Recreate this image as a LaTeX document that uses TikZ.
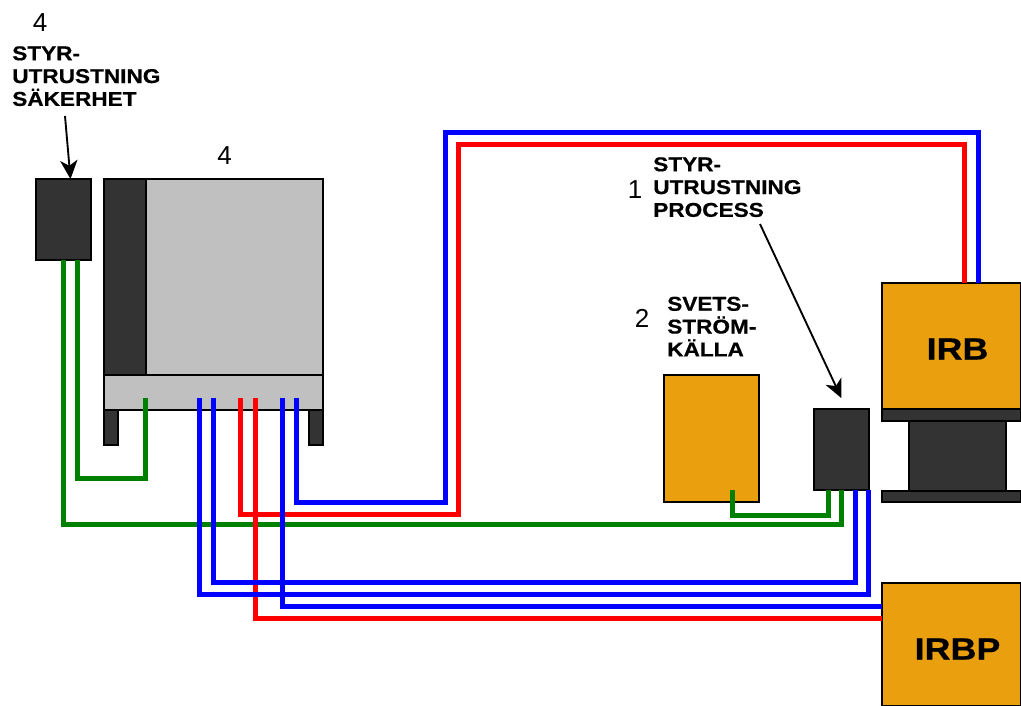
\documentclass[tikz,border=0pt]{standalone}
\usepackage{fontspec}
\setmainfont{Liberation Sans}
\newfontfamily\labfont[BoldFeatures={FakeStretch=1.13,FakeBold=0.6}]{Liberation Sans}
\newfontfamily\bigfont[BoldFeatures={FakeStretch=1.17,FakeBold=0.6}]{Liberation Sans}
\definecolor{dk}{HTML}{333333}
\definecolor{gr}{HTML}{C0C0C0}
\definecolor{og}{HTML}{EA9F0E}
\definecolor{wgreen}{HTML}{008000}
\usetikzlibrary{arrows.meta}
\tikzset{
  px/.style={x=0.75pt,y=-0.75pt},
  box/.style={draw=black,line width=0.9pt,inner sep=0pt,outer sep=0pt,anchor=north west},
  dkbox/.style={box,fill=dk},
  grbox/.style={box,fill=gr},
  ogbox/.style={box,fill=og},
  wire/.style={line width=3.75pt,line join=miter},
  gw/.style={wire,draw=wgreen},
  rw/.style={wire,draw=red},
  bw/.style={wire,draw=blue},
  lab/.style={font=\labfont\fontsize{15}{17.1}\selectfont\bfseries,align=left,anchor=north west,inner sep=0pt},
  num/.style={font=\fontsize{19.5}{21}\selectfont,inner sep=0pt},
  big/.style={font=\bigfont\fontsize{23}{26}\selectfont\bfseries,inner sep=0pt},
  ptr/.style={draw=black,line width=1.4pt,-{Stealth[length=14pt,width=13pt,inset=4pt]}}
}
\begin{document}
\begin{tikzpicture}[px]
\useasboundingbox (0,0) rectangle (1021,706);
% boxes
\node[dkbox,minimum width=41.25pt,minimum height=60.75pt] (safe) at (36,179) {};
\node[dkbox,minimum width=31.5pt,minimum height=147pt] (cabdark) at (104,179) {};
\node[grbox,minimum width=132.75pt,minimum height=147pt] (cabgrey) at (146,179) {};
\node[grbox,minimum width=164.25pt,minimum height=26.25pt] (cabband) at (104,375) {};
\node[dkbox,minimum width=10.5pt,minimum height=26.25pt] (footl) at (104,410) {};
\node[dkbox,minimum width=10.5pt,minimum height=26.25pt] (footr) at (309,410) {};
\node[ogbox,minimum width=71.25pt,minimum height=95.25pt] (weld) at (664,375) {};
\node[dkbox,minimum width=41.25pt,minimum height=60.75pt] (ctrl) at (814,409) {};
\node[dkbox,minimum width=72.75pt,minimum height=52.5pt] (col) at (909,421) {};
\node[dkbox,minimum width=104.25pt,minimum height=9pt] (ptop) at (882,409) {};
\node[dkbox,minimum width=104.25pt,minimum height=8.25pt] (pbot) at (882,491) {};
\node[ogbox,minimum width=104.25pt,minimum height=94.5pt] (irb) at (882,283) {};
\node[ogbox,minimum width=104.25pt,minimum height=92.25pt] (irbp) at (882,583) {};
\node[big] (irbt) at (957.5,349) {IRB};
\node[big] (irbpt) at (957.5,649) {IRBP};
% ports
\coordinate (c1) at (145,398); \coordinate (c2) at (199,398); \coordinate (c3) at (213,398);
\coordinate (c4) at (240,398); \coordinate (c5) at (255,398); \coordinate (c6) at (282,398);
\coordinate (c7) at (296,398);
\coordinate (s1) at (63,260); \coordinate (s2) at (77,260);
\coordinate (w1) at (732,490);
\coordinate (k1) at (828,490); \coordinate (k2) at (841,490); \coordinate (k3) at (855,490); \coordinate (k4) at (868,490);
\coordinate (i1) at (964,283); \coordinate (i2) at (978,283);
\coordinate (p1) at (882,606); \coordinate (p2) at (882,618);
% wires
\draw[gw] (c1) |- (s2 |- 0,478) -- (s2);
\draw[gw] (s1) |- (k2 |- 0,524) -- (k2);
\draw[gw] (w1) |- (k1 |- 0,515) -- (k1);
\draw[rw] (c4) |- (458,514) |- (i1 |- 0,145) -- (i1);
\draw[rw] (c5) |- (p2);
\draw[bw] (c2) |- (k4 |- 0,594) -- (k4);
\draw[bw] (c3) |- (k3 |- 0,582) -- (k3);
\draw[bw] (c6) |- (p1);
\draw[bw] (c7) |- (445,502) |- (i2 |- 0,133) -- (i2);
% labels
\node[num] (n4a) at (40,23) {4};
\node[lab] (lsafe) at (12,46) {STYR-\\UTRUSTNING\\SÄKERHET};
\node[num] (n4b) at (224.5,156) {4};
\node[num] (n1) at (635,190) {1};
\node[lab] (lproc) at (653,157) {STYR-\\UTRUSTNING\\PROCESS};
\node[num] (n2) at (642,318.5) {2};
\node[lab] (lweld) at (667,296.5) {SVETS-\\STRÖM-\\KÄLLA};
\coordinate (a1) at (65,116); \coordinate (a2) at (760,224);
\draw[ptr] (a1) -- ([xshift=5.25pt]safe.north);
\draw[ptr,shorten >=9pt] (a2) -- ([xshift=3.75pt]ctrl.north);
\end{tikzpicture}
\end{document}
